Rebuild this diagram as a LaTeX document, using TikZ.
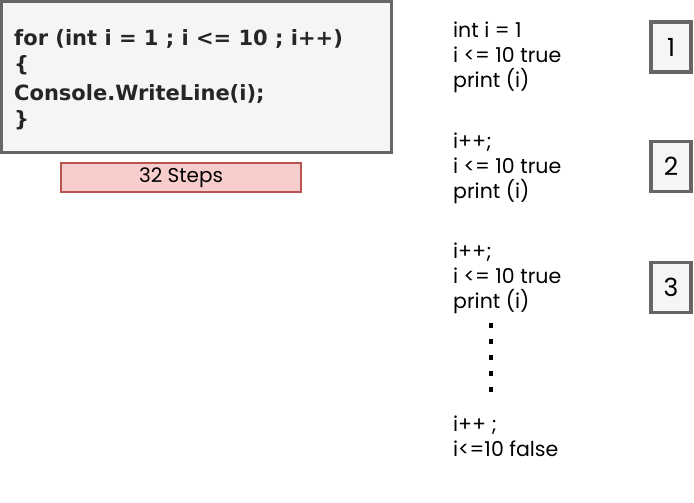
\documentclass[tikz,border=0pt]{standalone}
\usepackage{fontspec}
\setmainfont{DejaVu Sans}
\newfontfamily\codefont{DejaVu Sans}
\newfontfamily\handfont{Poppins}
\begin{document}
\begin{tikzpicture}[x=1pt,y=-1pt,
  codebox/.style={draw=black!60,fill=black!4,line width=3pt},
  stepsbox/.style={draw={rgb,255:red,184;green,84;blue,80},fill={rgb,255:red,248;green,206;blue,204},line width=2.6pt},
  numbox/.style={draw=black!60,fill=black!4,line width=3.5pt,minimum width=40pt,minimum height=50pt,inner sep=0pt,font=\handfont\fontsize{25}{28}\selectfont},
  codeline/.style={anchor=base west,inner sep=0pt,font=\codefont\bfseries\fontsize{21}{24}\selectfont,text=black!85},
  hand/.style={anchor=base west,inner sep=0pt,font=\handfont\fontsize{20.5}{24}\selectfont},
  dotline/.style={line width=3.5pt,dash pattern=on 5pt off 11pt}]
\useasboundingbox (0,0) rectangle (694,503);
\path[codebox] (1.5,1.5) rectangle (391,152);
\node[codeline] (c1) at (14,46) {for (int i = 1 ; i <= 10 ; i++)};
\node[codeline] (c2) at (14,72) {\{};
\node[codeline] (c3) at (14,100) {Console.WriteLine(i);};
\node[codeline] (c4) at (14,126) {\}};
\node[stepsbox,minimum width=240pt,minimum height=29pt,inner sep=0pt,font=\handfont\fontsize{20}{22}\selectfont] (steps) at (181,177.5) {32 Steps};
\node[hand] (a1) at (453,38) {int i = 1};
\node[hand] (a2) at (453,63) {i <= 10 true};
\node[hand] (a3) at (453,88) {print (i)};
\node[hand] (b1) at (453,148) {i++;};
\node[hand] (b2) at (453,173) {i <= 10 true};
\node[hand] (b3) at (453,198) {print (i)};
\node[hand] (d1) at (453,258) {i++;};
\node[hand] (d2) at (453,283) {i <= 10 true};
\node[hand] (d3) at (453,308) {print (i)};
\node[hand] (e1) at (453,431) {i++ ;};
\node[hand] (e2) at (453,456) {i<=10 false};
\coordinate (dt) at (491,323);
\coordinate (db) at (491,395);
\draw[dotline] (dt) -- (db);
\node[numbox] (n1) at (671,47) {1};
\node[numbox] (n2) at (671,166.5) {2};
\node[numbox] (n3) at (671,287.5) {3};
\end{tikzpicture}
\end{document}
